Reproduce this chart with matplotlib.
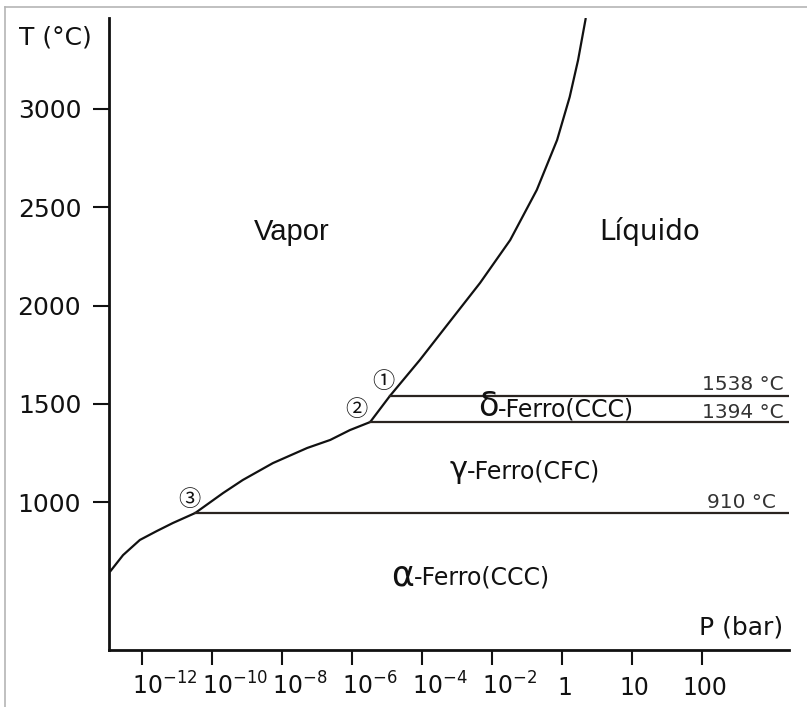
import matplotlib
matplotlib.use('Agg')
import matplotlib.pyplot as plt
from matplotlib.lines import Line2D
from matplotlib.transforms import ScaledTranslation

W, H = 807, 707

# pressure axis is schematic: ticks are equally spaced, so x is the tick index
p_labels = ['$10^{-12}$', '$10^{-10}$', '$10^{-8}$', '$10^{-6}$', '$10^{-4}$',
            '$10^{-2}$', '1', '10', '100']
p_pos = list(range(len(p_labels)))
t_ticks = [1000, 1500, 2000, 2500, 3000]

# vapour boundary (sublimation then boiling)
curve_x = [-0.46, -0.27, -0.03, 0.21, 0.44, 0.76, 1.16, 1.44, 1.87, 2.36,
           2.69, 2.97, 3.26, 3.54, 3.97, 4.36, 4.83, 5.26, 5.64, 5.93,
           6.11, 6.23, 6.34]
curve_t = [644, 730, 807, 852, 893, 944, 1046, 1112, 1198, 1275,
           1316, 1366, 1407, 1539, 1723, 1901, 2115, 2333, 2588, 2842,
           3061, 3249, 3463]

# solid-solid / solid-liquid lines
phase_t = [944, 1407, 1539]
phase_x0 = [0.76, 3.26, 3.54]
phase_lbl = ['910 °C', '1394 °C', '1538 °C']

fig = plt.figure(figsize=(W / 100, H / 100), dpi=100)
ax = fig.add_axes([109 / W, 57 / H, 680 / W, 632 / H])
x_end = 9.243
ax.set_xlim(-0.471, x_end)
ax.set_ylim(247, 3463)

for s in ['top', 'right']:
    ax.spines[s].set_visible(False)
for s in ['left', 'bottom']:
    ax.spines[s].set_linewidth(2)
    ax.spines[s].set_color('#111111')

ax.plot(curve_x, curve_t, color='#111111', lw=1.6, solid_capstyle='butt')
for t, x0 in zip(phase_t, phase_x0):
    ax.plot([x0, x_end], [t, t], color='#2a2420', lw=1.6)

ax.set_yticks(t_ticks)
ax.set_yticklabels([str(t) for t in t_ticks])
ax.tick_params(axis='y', length=11.5, width=1.5, pad=8.5, labelsize=18,
               colors='#111111')
ax.set_xticks(p_pos)
ax.set_xticklabels(p_labels)
ax.tick_params(axis='x', length=10.8, width=1.5, pad=21.5, labelsize=17,
               colors='#111111')
for lab in ax.get_xticklabels():
    lab.set_va('baseline')
    if lab.get_text().startswith('$'):
        lab.set_ha('left')
        lab.set_transform(lab.get_transform() + ScaledTranslation(-7.2 / 72, 0, fig.dpi_scale_trans))
    else:
        lab.set_transform(lab.get_transform() + ScaledTranslation(2 / 72, 0, fig.dpi_scale_trans))


def ftext(x, y, s, **kw):
    kw.setdefault('va', 'center')
    kw.setdefault('color', '#111111')
    fig.text(x / W, 1 - y / H, s, **kw)


ftext(55, 38, 'T (°C)', ha='center', fontsize=18)
ftext(783, 627, 'P (bar)', ha='right', fontsize=18)
ftext(292, 232, 'Vapor', ha='center', fontsize=21, family='Liberation Sans')
ftext(650, 232, 'Líquido', ha='center', fontsize=20)

for t, lbl, xr, yc in zip(phase_t, phase_lbl, [776, 784, 784], [502, 412, 384]):
    ftext(xr, yc, lbl, ha='right', fontsize=14.5, color='#333333')

ftext(488, 407, 'δ', ha='center', fontsize=24)
ftext(498, 410, '-Ferro(CCC)', ha='left', fontsize=17)
ftext(459, 469, 'γ', ha='center', fontsize=22)
ftext(467, 472, '-Ferro(CFC)', ha='left', fontsize=17)
ftext(403, 576, 'α', ha='center', fontsize=25)
ftext(414, 578, '-Ferro(CCC)', ha='left', fontsize=17)

for s, x, y in [('①', 383, 382), ('②', 356, 410), ('③', 189, 499)]:
    ftext(x, y, s, ha='center', fontsize=16, family=['Noto Sans CJK JP', 'DejaVu Sans'])

# page frame of the clipped document
fig.add_artist(Line2D([5 / W, 5 / W], [0, 1 - 7 / H], color='#b5b5b5', lw=1.2))
fig.add_artist(Line2D([5 / W, 1], [1 - 7 / H, 1 - 7 / H], color='#b5b5b5', lw=1.2))

fig.savefig('out.png', dpi=100)
